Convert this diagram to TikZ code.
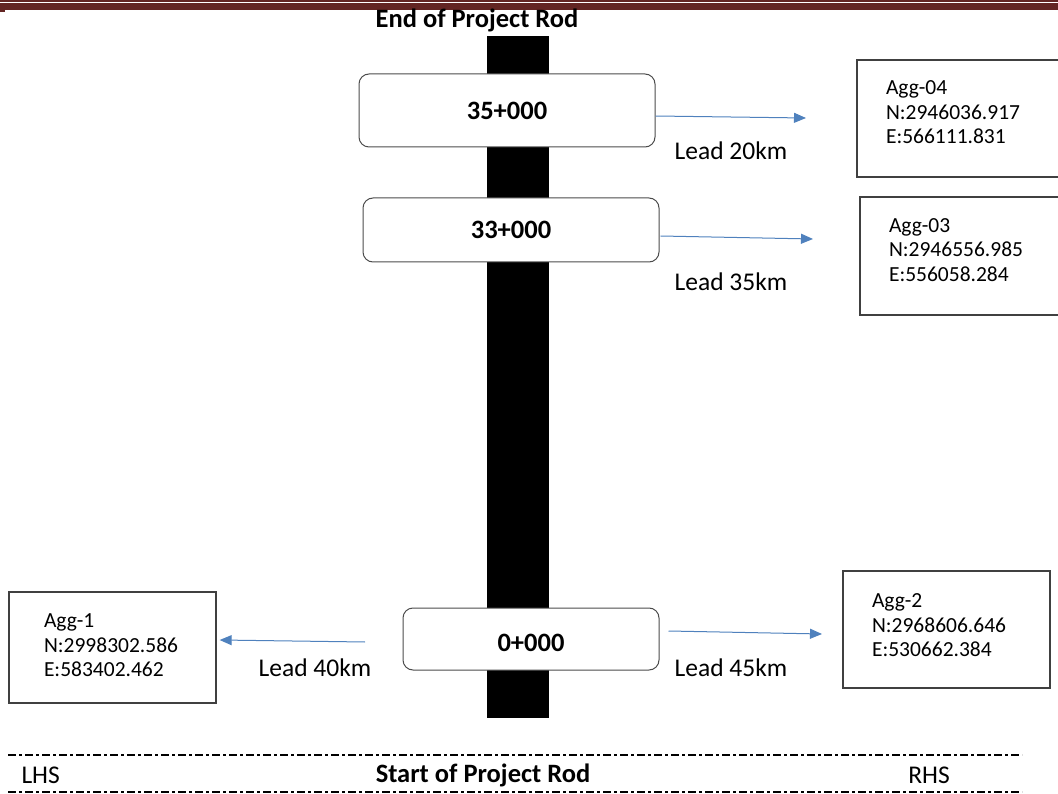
\documentclass[tikz,border=0pt]{standalone}
\usepackage{fontspec}
\setmainfont{Carlito}
\usetikzlibrary{positioning,arrows.meta}
\definecolor{leadblue}{HTML}{4F81BD}
\definecolor{pagered}{HTML}{632523}

\begin{document}
\begin{tikzpicture}[x=1pt,y=-1pt,>=Stealth,
   chainage/.style={draw=black!70,fill=white,rounded corners=10pt,line width=1pt,
      font=\bfseries\fontsize{26.5}{30}\selectfont},
   aggbox/.style={draw=black!75,line width=1.3pt,align=left,inner ysep=0pt,
      font=\fontsize{21.5}{24.5}\selectfont},
   leadarrow/.style={-{Triangle[length=12pt,width=10pt]},draw=leadblue,line width=1pt},
   lead/.style={font=\fontsize{25.5}{28}\selectfont},
   rodline/.style={line width=2.5pt,dash pattern=on 8pt off 3pt on 3pt off 3pt},
   heading/.style={font=\bfseries\fontsize{26.5}{30}\selectfont}]
  \useasboundingbox (0,0) rectangle (1058,794);
  % page rule at the top
  \fill[pagered] (0,3.5) rectangle (1058,10);
  \fill[pagered] (0,10) rectangle (5,12.5);
  \draw[pagered,line width=1.5pt] (0,1.2) -- (1058,1.2);

  % the rod
  \fill[black] (487,36) rectangle (549,718);
  \node[heading] (endrod) at (477,20) {End of Project Rod};

  % chainages
  \node[chainage,minimum width=296pt,minimum height=73pt] (k35) at (507,110.5) {35+000};
  \node[chainage,minimum width=296pt,minimum height=64pt] (k33) at (511,230) {33+000};
  \node[chainage,minimum width=256pt,minimum height=62pt,text height=25pt] (k0) at (531,639) {0+000};

  % aggregate sources
  \node[aggbox,minimum width=205pt,minimum height=117pt,text width=147pt,inner xsep=29pt,
     text depth=61pt] (agg4) at (959.5,118.5) {Agg-04\\N:2946036.917\\E:566111.831};
  \node[aggbox,minimum width=202pt,minimum height=118pt,text width=144pt,inner xsep=29pt,
     text depth=61pt] (agg3) at (961,256) {Agg-03\\N:2946556.985\\E:556058.284};
  \node[aggbox,minimum width=207pt,minimum height=117pt,text width=149pt,inner xsep=29pt,
     text depth=57pt] (agg2) at (946.5,629.5) {Agg-2\\N:2968606.646\\E:530662.384};
  \node[aggbox,minimum width=207pt,minimum height=111pt,text width=137pt,inner xsep=35pt,
     text depth=53pt] (agg1) at (112.5,647.5) {Agg-1\\N:2998302.586\\E:583402.462};

  % leads
  \coordinate (tip4) at (806,118);
  \coordinate (tip3) at (813,239);
  \coordinate (tip2) at (822,634);
  \coordinate (tail1) at (365,642);
  \draw[leadarrow] ([yshift=-5.5pt]k35.east) -- (tip4);
  \draw[leadarrow] ([xshift=1pt,yshift=-6pt]k33.east) -- (tip3);
  \draw[leadarrow] ([xshift=9pt,yshift=8pt]k0.east) -- (tip2);
  \draw[leadarrow] (tail1) -- ([xshift=3pt,yshift=7.5pt]agg1.east);
  \node[lead] (lead20) at (731,151) {Lead 20km};
  \node[lead] (lead35) at (731,282) {Lead 35km};
  \node[lead] (lead45) at (731,668) {Lead 45km};
  \node[lead] (lead40) at (315,668) {Lead 40km};

  % start of the rod
  \draw[rodline] (8,755) -- (1022,755);
  \draw[rodline] (8,792) -- (1022,792);
  \node[heading] (startrod) at (483,775) {Start of Project Rod};
  \node[lead,anchor=west] (lhs) at (18,775) {LHS};
  \node[lead] (rhs) at (929,775) {RHS};
\end{tikzpicture}
\end{document}
